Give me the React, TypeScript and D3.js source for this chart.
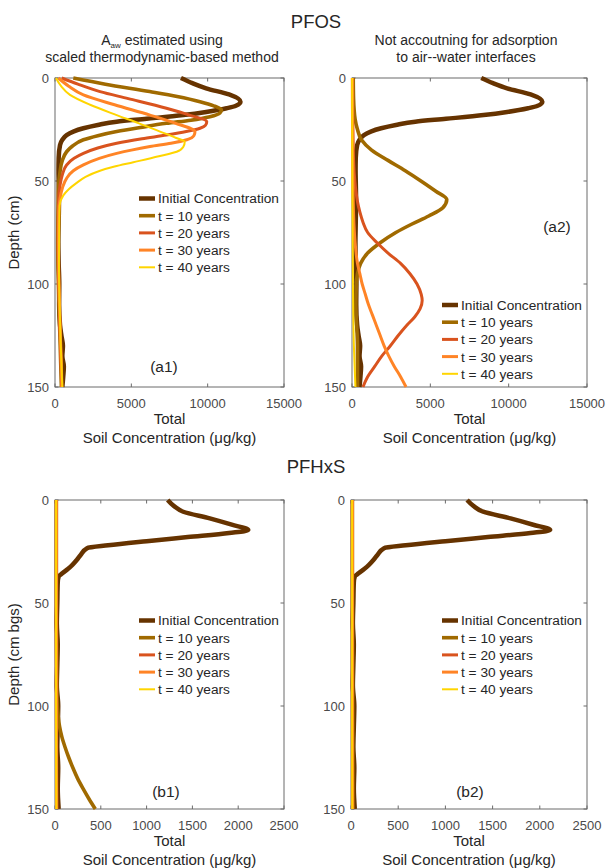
import React from "react";
import * as d3 from "d3";

// each profile is [depth (cm), total soil concentration (ug/kg)]
const depthTicks = [0, 50, 100, 150];
const pfosTicks = [0, 5000, 10000, 15000];
const pfhxsTicks = [0, 500, 1000, 1500, 2000, 2500];

const seriesNames = ["Initial Concentration", "t = 10 years", "t = 20 years", "t = 30 years", "t = 40 years"];
const seriesColors = ["#663300", "#A06A00", "#D9531E", "#FF8426", "#FFD500"];
const seriesWidths = [4.5, 3.6, 3, 3, 2];

const pfosInitial = [
  [0, 8250], [2.5, 9000], [5, 9900], [8, 11400], [11.5, 12150], [13.5, 11850], [14.7, 11240],
  [16.5, 9900], [18, 8400], [19.8, 6000], [21.2, 4040], [22.8, 2800], [24.4, 1860], [26, 1200],
  [27.7, 760], [30, 480], [32.5, 330], [38.8, 240], [45, 230], [50, 240], [60, 260], [70, 240],
  [80, 220], [90, 240], [100, 280], [110, 270], [120, 330], [125, 420], [130, 520], [135, 480],
  [140, 580], [145, 540], [150, 480],
];

// A_aw estimated (a1)
const a1T10 = [
  [0, 1200], [3, 3300], [6.6, 6200], [9, 8000], [11.5, 9500], [13.5, 10400], [15.5, 10900],
  [17, 10800], [18.8, 10150], [20.5, 8900], [22, 7300], [24, 5600], [26, 4040], [28, 2800],
  [30, 1860], [33, 1150], [35.8, 760], [40, 480], [45.5, 330], [55, 220], [65, 200], [80, 180],
  [100, 220], [120, 300], [140, 380], [150, 420],
];
const a1T20 = [
  [0, 440], [3, 1500], [6.6, 2950], [10, 4800], [14.7, 7300], [18, 8800], [21.2, 9940],
  [23, 9850], [24.4, 9500], [26, 8600], [27.7, 7300], [29.5, 5700], [31.7, 4040], [34, 2800],
  [36.6, 1860], [39, 1250], [42.2, 760], [47, 480], [52, 330], [60, 230], [80, 200], [100, 250],
  [120, 320], [140, 400], [150, 430],
];
const a1T30 = [
  [0, 220], [4, 900], [8.2, 1860], [13, 3900], [18, 6220], [22, 7900], [26, 9170], [28, 9100],
  [30, 8630], [31.7, 7600], [33.3, 6220], [35, 5000], [36.6, 4040], [39, 2900], [42.2, 1860],
  [45, 1200], [48.7, 760], [53, 500], [58.4, 330], [65, 250], [80, 230], [100, 260], [120, 330],
  [140, 420], [150, 450],
];
const a1T40 = [
  [0, 65], [4, 400], [8.2, 980], [13, 2300], [18, 4040], [22, 5500], [26, 6880], [29, 7900],
  [31, 8500], [33.5, 8400], [35.8, 7970], [38, 6800], [40.9, 5130], [43, 3900], [45, 2950],
  [48, 2000], [50.9, 1420], [54, 900], [57, 545], [62, 300], [70, 280], [90, 260], [110, 300],
  [130, 380], [150, 480],
];

// no air-water adsorption (a2)
const a2T10 = [
  [0, 80], [10, 100], [20, 200], [25, 350], [30, 600], [35, 1250], [40, 2300], [45, 3400],
  [50, 4400], [55, 5350], [59, 6050], [63, 5800], [67, 4900], [71, 3800], [75, 2800], [80, 1800],
  [85, 1000], [90, 550], [95, 350], [100, 280], [110, 250], [120, 300], [130, 350], [140, 350],
  [150, 350],
];
const a2T20 = [
  [0, 30], [20, 50], [40, 100], [50, 180], [55, 250], [60, 350], [65, 500], [70, 700], [75, 1000],
  [80, 1600], [85, 2300], [90, 3100], [95, 3700], [100, 4150], [105, 4420], [108, 4480],
  [112, 4350], [116, 4000], [120, 3500], [125, 2950], [130, 2450], [135, 1900], [140, 1450],
  [145, 1000], [150, 700],
];
const a2T30 = [
  [0, 20], [40, 50], [60, 80], [70, 120], [80, 200], [90, 350], [95, 500], [100, 650], [105, 850],
  [110, 1050], [115, 1300], [120, 1550], [125, 1800], [130, 2050], [135, 2350], [140, 2700],
  [145, 3100], [150, 3450],
];
const a2T40 = [[0, 10], [50, 20], [100, 60], [130, 120], [150, 220]];

// PFHxS
const pfhxsInitial = [
  [0, 1230], [3, 1300], [5.7, 1400], [8.9, 1690], [12, 1930], [14.6, 2110], [16, 1900],
  [18, 1450], [20, 1000], [22, 580], [23.4, 350], [26.7, 280], [29, 240], [31.5, 190],
  [33.5, 140], [35.6, 80], [37.2, 40], [40, 30], [50, 25], [60, 20], [70, 30], [80, 25], [90, 20],
  [100, 35], [110, 30], [120, 25], [130, 35], [140, 30], [150, 40],
];
const b1T10 = [
  [0, 15], [50, 15], [90, 20], [100, 25], [105, 35], [110, 50], [115, 75], [120, 110], [125, 150],
  [130, 195], [135, 245], [140, 305], [145, 370], [150, 440],
];
const b1T20 = [[0, 15], [50, 15], [100, 15], [150, 20]];
const b1T30 = [[0, 15], [50, 15], [100, 15], [150, 18]];
const b1T40 = [[0, 12], [50, 12], [100, 12], [150, 15]];
const b2T10 = [[0, 15], [50, 15], [100, 18], [150, 20]];
const b2T20 = [[0, 15], [50, 15], [100, 15], [150, 18]];
const b2T30 = [[0, 15], [50, 15], [100, 15], [150, 16]];
const b2T40 = [[0, 12], [50, 12], [100, 12], [150, 14]];

const FONT = "'Liberation Sans', Arial, Helvetica, sans-serif";
const AXIS = "#6b6b6b";
const TICKTXT = "#4a4a4a";
const TXT = "#262626";

type Pt = number[];

function Panel(props: {
  left: number; top: number; right: number; bottom: number; xMax: number; xTicks: number[];
  series: Pt[][]; ylabel?: string; legendTop: number; tag: string; tagX: number; tagY: number;
}) {
  const { left, top, right, bottom, xMax, xTicks, series, ylabel, legendTop, tag, tagX, tagY } = props;
  const x = d3.scaleLinear().domain([0, xMax]).range([left, right]);
  const y = d3.scaleLinear().domain([0, 150]).range([top, bottom]);
  const line = d3.line<Pt>().x(p => x(p[1])).y(p => y(p[0])).curve(d3.curveMonotoneY);
  const tk = 3.5;
  const cx = (left + right) / 2;
  const legX = right - 145;
  return (
    <g fontFamily={FONT}>
      <rect x={left} y={top} width={right - left} height={bottom - top} fill="none" stroke={AXIS} strokeWidth={1} />
      {xTicks.map(t => (
        <g key={"x" + t}>
          <line x1={x(t)} x2={x(t)} y1={bottom} y2={bottom - tk} stroke={AXIS} />
          <line x1={x(t)} x2={x(t)} y1={top} y2={top + tk} stroke={AXIS} />
          <text x={x(t)} y={bottom + 21} textAnchor="middle" fontSize={13} fill={TICKTXT}>{t}</text>
        </g>
      ))}
      {depthTicks.map(t => (
        <g key={"y" + t}>
          <line x1={left} x2={left + tk} y1={y(t)} y2={y(t)} stroke={AXIS} />
          <line x1={right} x2={right - tk} y1={y(t)} y2={y(t)} stroke={AXIS} />
          <text x={left - 6} y={y(t)} dy="0.36em" textAnchor="end" fontSize={13} fill={TICKTXT}>{t}</text>
        </g>
      ))}
      {series.map((s, i) => (
        <path key={"s" + i} d={line(s as Pt[]) || ""} fill="none" stroke={seriesColors[i]}
          strokeWidth={seriesWidths[i]} strokeLinejoin="round" />
      ))}
      {seriesNames.map((n, i) => (
        <g key={"l" + i}>
          <line x1={legX} x2={legX + 16} y1={legendTop + i * 17.2} y2={legendTop + i * 17.2}
            stroke={seriesColors[i]} strokeWidth={seriesWidths[i]} />
          <text x={legX + 19} y={legendTop + i * 17.2} dy="0.36em" fontSize={13.7} fill={TXT}>{n}</text>
        </g>
      ))}
      <text x={tagX} y={tagY} textAnchor="middle" fontSize={15.5} fill={TXT}>{tag}</text>
      <text x={cx} y={bottom + 37} textAnchor="middle" fontSize={15} fill={TXT}>Total</text>
      <text x={cx} y={bottom + 56} textAnchor="middle" fontSize={15} fill={TXT}>Soil Concentration (μg/kg)</text>
      {ylabel && (
        <text transform={`translate(${left - 36},${(top + bottom) / 2}) rotate(-90)`} textAnchor="middle"
          fontSize={15} fill={TXT}>{ylabel}</text>
      )}
    </g>
  );
}

export default function App() {
  return (
    <svg width={608} height={868} style={{ position: "absolute", left: 0, top: 0, background: "#fff" }}>
      <rect width={608} height={868} fill="#fff" />
      <g fontFamily={FONT} fill={TXT}>
        <text x={316} y={28} textAnchor="middle" fontSize={18.5}>PFOS</text>
        <text x={162} y={45} textAnchor="middle" fontSize={14}>
          A<tspan fontSize={8} dy={3}>aw</tspan><tspan dy={-3}> estimated using</tspan>
        </text>
        <text x={162} y={62} textAnchor="middle" fontSize={14}>scaled thermodynamic-based method</text>
        <text x={466} y={45} textAnchor="middle" fontSize={14}>Not accoutning for adsorption</text>
        <text x={466} y={62} textAnchor="middle" fontSize={14}>to air--water interfaces</text>
        <text x={316} y={473} textAnchor="middle" fontSize={18.5}>PFHxS</text>
      </g>
      <Panel left={55} top={78} right={284} bottom={387} xMax={15000} xTicks={pfosTicks}
        series={[pfosInitial, a1T10, a1T20, a1T30, a1T40]} ylabel="Depth (cm)" legendTop={198.5}
        tag="(a1)" tagX={164} tagY={372} />
      <Panel left={352} top={78} right={587} bottom={387} xMax={15000} xTicks={pfosTicks}
        series={[pfosInitial, a2T10, a2T20, a2T30, a2T40]} legendTop={305}
        tag="(a2)" tagX={557} tagY={232} />
      <Panel left={55} top={500} right={284} bottom={809} xMax={2500} xTicks={pfhxsTicks}
        series={[pfhxsInitial, b1T10, b1T20, b1T30, b1T40]} ylabel="Depth (cm bgs)" legendTop={620.5}
        tag="(b1)" tagX={166} tagY={797} />
      <Panel left={351} top={500} right={587} bottom={809} xMax={2500} xTicks={pfhxsTicks}
        series={[pfhxsInitial, b2T10, b2T20, b2T30, b2T40]} legendTop={620.5}
        tag="(b2)" tagX={470} tagY={797} />
    </svg>
  );
}
